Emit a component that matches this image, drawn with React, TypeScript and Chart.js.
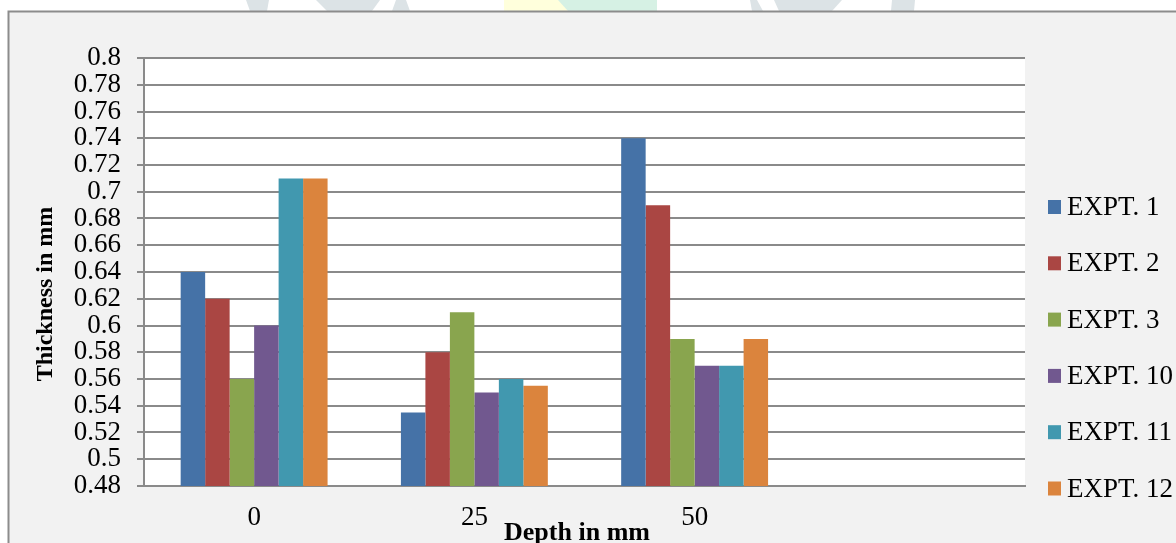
import { useEffect, useRef } from 'react';
import { Chart, registerables } from 'chart.js';

Chart.register(...registerables);

// Depth categories along the x axis (the last slot is an empty category)
const depthLabels = ['0', '25', '50', ''];

// Series names and thickness values (mm) per depth
const seriesNames = ['EXPT. 1', 'EXPT. 2', 'EXPT. 3', 'EXPT. 10', 'EXPT. 11', 'EXPT. 12'];
const expt1 = [0.64, 0.535, 0.74, null];
const expt2 = [0.62, 0.58, 0.69, null];
const expt3 = [0.56, 0.61, 0.59, null];
const expt10 = [0.6, 0.55, 0.57, null];
const expt11 = [0.71, 0.56, 0.57, null];
const expt12 = [0.71, 0.555, 0.59, null];

const seriesColors = ['#4572A7', '#AA4643', '#89A54E', '#71588F', '#4198AF', '#DB843D'];

// Y axis tick values
const thicknessTicks = [
  0.48, 0.5, 0.52, 0.54, 0.56, 0.58, 0.6, 0.62, 0.64, 0.66, 0.68, 0.7, 0.72, 0.74, 0.76, 0.78, 0.8,
];

const xTitle = 'Depth in mm';
const yTitle = 'Thickness in mm';

const SERIF = '"Liberation Serif", "Times New Roman", serif';
const GRID = '#8a8a8a';

// Faint page watermark pieces showing above the chart frame
const watermarkShapes: { color: string; pts: number[][] }[] = [
  { color: '#dce3e6', pts: [[246, 0], [269, 0], [267, 11], [250, 11]] },
  { color: '#dce3e6', pts: [[316, 0], [380, 0], [372, 11], [327, 11]] },
  { color: '#dce3e6', pts: [[396, 0], [406, 0], [410, 11], [392, 11]] },
  { color: '#ffffdc', pts: [[504, 0], [560, 0], [568, 11], [504, 11]] },
  { color: '#d6f1e4', pts: [[558, 0], [657, 0], [657, 11], [568, 11]] },
  { color: '#dce3e6', pts: [[750, 0], [757, 0], [763, 11], [752, 11]] },
  { color: '#dce3e6', pts: [[774, 0], [842, 0], [832, 11], [779, 11]] },
  { color: '#dce3e6', pts: [[892, 0], [915, 0], [914, 11], [891, 11]] },
];

// Page frame, grey panel and white plot area
const framePlugin = {
  id: 'frame',
  beforeDraw(chart: Chart) {
    const { ctx, width, height, chartArea } = chart;
    ctx.save();
    ctx.fillStyle = '#ffffff';
    ctx.fillRect(0, 0, width, height);
    watermarkShapes.forEach((s) => {
      ctx.fillStyle = s.color;
      ctx.beginPath();
      s.pts.forEach(([x, y], i) => (i === 0 ? ctx.moveTo(x, y) : ctx.lineTo(x, y)));
      ctx.closePath();
      ctx.fill();
    });
    ctx.fillStyle = '#f2f2f2';
    ctx.fillRect(8, 11, width - 8, height - 11);
    ctx.strokeStyle = '#8c8c8c';
    ctx.lineWidth = 2;
    ctx.beginPath();
    ctx.moveTo(8.5, height);
    ctx.lineTo(8.5, 11.5);
    ctx.lineTo(width, 11.5);
    ctx.stroke();
    ctx.fillStyle = '#ffffff';
    ctx.fillRect(chartArea.left, chartArea.top, chartArea.right - chartArea.left, chartArea.bottom - chartArea.top);
    ctx.restore();
  },
};

// Legend on the right and the two axis titles
const annotationsPlugin = {
  id: 'annotations',
  afterDraw(chart: Chart) {
    const { ctx, chartArea } = chart;
    ctx.save();
    ctx.fillStyle = '#000000';

    // legend
    const lx = chartArea.right + 23;
    const ly = chartArea.top + 149;
    const step = 56.3;
    ctx.font = `27px ${SERIF}`;
    ctx.textBaseline = 'middle';
    ctx.textAlign = 'left';
    chart.data.datasets.forEach((ds, i) => {
      const cy = ly + i * step;
      ctx.fillStyle = ds.backgroundColor as string;
      ctx.fillRect(lx, cy - 7, 13, 14);
      ctx.fillStyle = '#000000';
      ctx.fillText(String(ds.label), lx + 19, cy + 1);
    });

    // x axis title
    ctx.font = `bold 26px ${SERIF}`;
    ctx.textAlign = 'center';
    ctx.textBaseline = 'alphabetic';
    ctx.fillText(xTitle, 577, 540);

    // y axis title
    ctx.translate(52, 294);
    ctx.rotate(-Math.PI / 2);
    ctx.font = `bold 24px ${SERIF}`;
    ctx.textAlign = 'center';
    ctx.textBaseline = 'alphabetic';
    ctx.fillText(yTitle, 0, 0);
    ctx.restore();
  },
};

export default function App() {
  const canvasRef = useRef<HTMLCanvasElement | null>(null);

  useEffect(() => {
    if (!canvasRef.current) return;
    const seriesValues = [expt1, expt2, expt3, expt10, expt11, expt12];
    const chart = new Chart(canvasRef.current, {
      type: 'bar',
      data: {
        labels: depthLabels,
        datasets: seriesNames.map((name, i) => ({
          label: name,
          data: seriesValues[i],
          backgroundColor: seriesColors[i],
          borderWidth: 0,
          categoryPercentage: 0.667,
          barPercentage: 1,
        })),
      },
      options: {
        responsive: false,
        animation: false,
        devicePixelRatio: 1,
        layout: { padding: { left: 0, right: 151, top: 58, bottom: 0 } },
        plugins: {
          legend: { display: false },
          tooltip: { enabled: false },
          title: { display: false },
        },
        scales: {
          x: {
            grid: { display: false, drawTicks: false },
            border: { display: true, color: GRID, width: 2 },
            ticks: {
              color: '#000000',
              font: { family: SERIF, size: 27 },
              padding: 16,
              maxRotation: 0,
              autoSkip: false,
            },
            afterFit(scale: any) {
              scale.height = 57;
            },
          },
          y: {
            min: 0.48,
            max: 0.8,
            afterBuildTicks(scale: any) {
              scale.ticks = thicknessTicks.map((v) => ({ value: v }));
            },
            grid: { color: GRID, lineWidth: 2, tickLength: 7, drawTicks: true },
            border: { display: true, color: GRID, width: 2 },
            ticks: {
              color: '#000000',
              font: { family: SERIF, size: 27 },
              padding: 16,
              autoSkip: false,
              callback: (v: any) => String(Math.round(Number(v) * 100) / 100),
            },
            afterFit(scale: any) {
              scale.width = 144;
            },
          },
        },
      },
      plugins: [framePlugin, annotationsPlugin],
    });
    return () => chart.destroy();
  }, []);

  return (
    <div style={{ position: 'fixed', left: 0, top: 0, width: 1176, height: 543 }}>
      <canvas ref={canvasRef} width={1176} height={543} style={{ display: 'block' }} />
    </div>
  );
}
